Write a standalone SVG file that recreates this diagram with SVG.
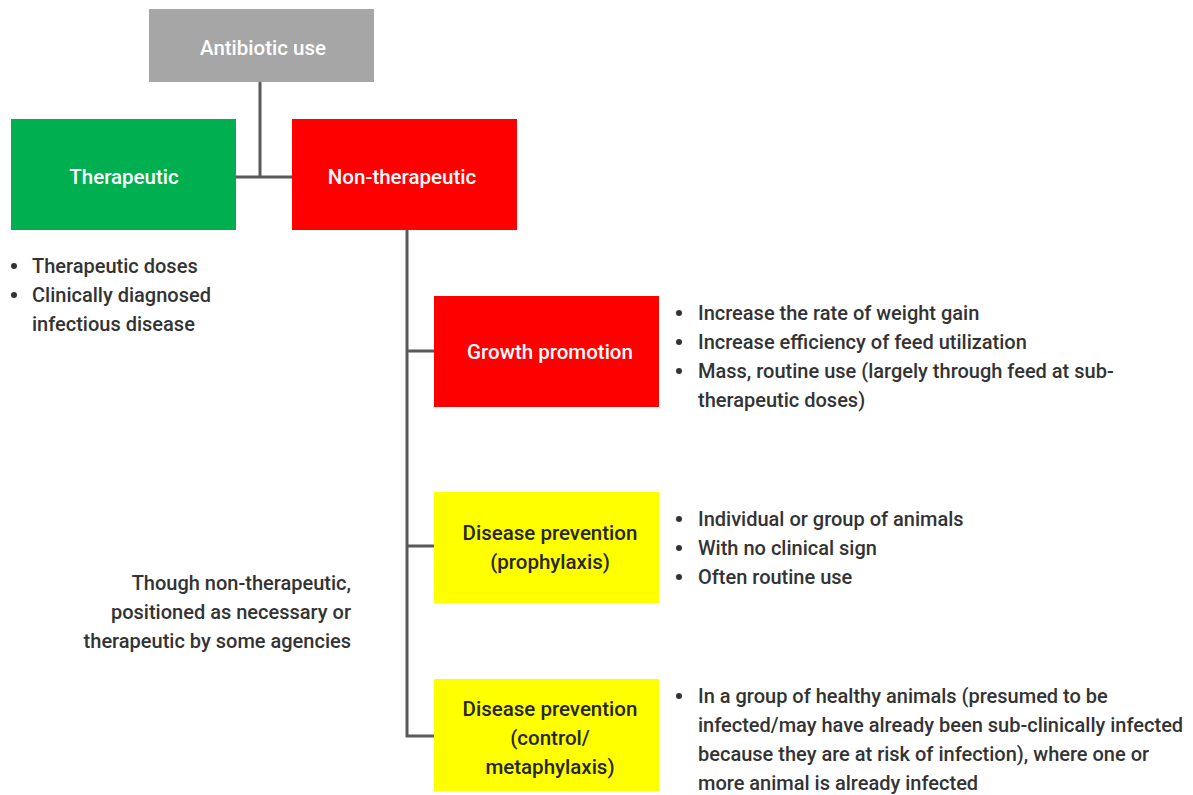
<svg xmlns="http://www.w3.org/2000/svg" width="1193" height="795" viewBox="0 0 1193 795">
<style>
text{font-family:Roboto,"Liberation Sans",sans-serif;font-size:20px;font-weight:500}
.w{fill:#ffffff;text-anchor:middle;font-size:20.5px}
.k{fill:#262626;text-anchor:middle;font-size:20.5px}
.b{fill:#333333}
.r{fill:#333333;text-anchor:end}
.c{fill:none;stroke:#595959;stroke-width:3}
.d{fill:#333333}
</style>
<rect width="1193" height="795" fill="#ffffff"/>
<g id="connectors">
<path class="c" d="M260 82V176"/>
<path class="c" d="M236 177H292" stroke-width="2"/>
<path class="c" d="M407 230V736H434M407 351H434M407 546H434"/>
</g>
<g id="antibiotic-use"><rect x="149" y="9" width="225" height="73" fill="#a6a6a6"/><text class="w" x="263" y="55">Antibiotic use</text></g>
<g id="therapeutic"><rect x="11" y="119" width="225" height="111" fill="#00b050"/><text class="w" x="124" y="184">Therapeutic</text></g>
<g id="non-therapeutic"><rect x="292" y="119" width="225" height="111" fill="#ff0000"/><text class="w" x="402" y="184">Non-therapeutic</text></g>
<g id="growth-promotion"><rect x="434" y="296" width="225" height="111" fill="#ff0000"/><text class="w" x="550" y="359">Growth promotion</text></g>
<g id="prophylaxis"><rect x="434" y="492" width="225" height="111" fill="#ffff00"/><text class="k" x="550" y="540">Disease prevention</text><text class="k" x="550" y="569">(prophylaxis)</text></g>
<g id="metaphylaxis"><rect x="434" y="679" width="225" height="112" fill="#ffff00"/><text class="k" x="550" y="716">Disease prevention</text><text class="k" x="550" y="745">(control/</text><text class="k" x="550" y="774">metaphylaxis)</text></g>
<g id="therapeutic-notes">
<circle class="d" cx="14" cy="266" r="3"/><text class="b" x="32" y="273">Therapeutic doses</text>
<circle class="d" cx="14" cy="295" r="3"/><text class="b" x="32" y="302">Clinically diagnosed</text>
<text class="b" x="32" y="331">infectious disease</text>
</g>
<g id="growth-notes">
<circle class="d" cx="679" cy="313" r="3"/><text class="b" x="698" y="320">Increase the rate of weight gain</text>
<circle class="d" cx="679" cy="342" r="3"/><text class="b" x="698" y="349">Increase efficiency of feed utilization</text>
<circle class="d" cx="679" cy="371" r="3"/><text class="b" x="698" y="378">Mass, routine use (largely through feed at sub-</text>
<text class="b" x="698" y="407">therapeutic doses)</text>
</g>
<g id="prophylaxis-notes">
<circle class="d" cx="679" cy="519" r="3"/><text class="b" x="698" y="526">Individual or group of animals</text>
<circle class="d" cx="679" cy="548" r="3"/><text class="b" x="698" y="555">With no clinical sign</text>
<circle class="d" cx="679" cy="577" r="3"/><text class="b" x="698" y="584">Often routine use</text>
</g>
<g id="metaphylaxis-notes">
<circle class="d" cx="679" cy="696" r="3"/><text class="b" x="698" y="703">In a group of healthy animals (presumed to be</text>
<text class="b" x="698" y="732">infected/may have already been sub-clinically infected</text>
<text class="b" x="698" y="761">because they are at risk of infection), where one or</text>
<text class="b" x="698" y="790">more animal is already infected</text>
</g>
<g id="note">
<text class="r" x="351" y="590">Though non-therapeutic,</text>
<text class="r" x="351" y="619">positioned as necessary or</text>
<text class="r" x="351" y="648">therapeutic by some agencies</text>
</g>
</svg>
